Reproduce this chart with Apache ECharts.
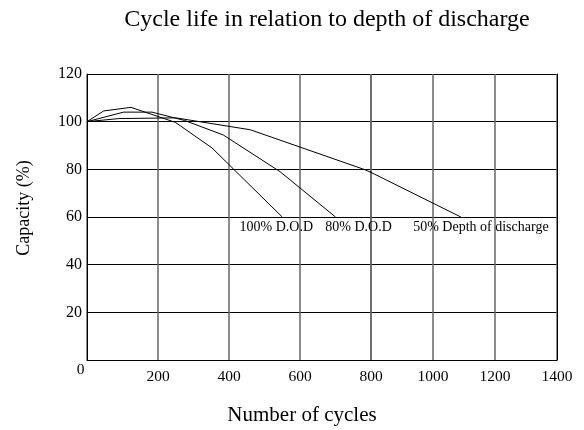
<!DOCTYPE html>
<html>
<head>
<meta charset="utf-8">
<script src="https://cdn.jsdelivr.net/npm/echarts@6/dist/echarts.min.js"></script>
<style>html,body{margin:0;padding:0;background:#fff}#main{width:584px;height:430px}</style>
</head>
<body>
<div id="main"></div>
<script>
// ---- data ----
const cycles100 = [0, 47, 124, 249, 352, 550];
const cap100    = [100, 104.5, 106, 99.7, 89, 60];
const cycles80  = [0, 103, 183, 275, 384, 544, 700];
const cap80     = [100, 104, 104, 100.5, 94.4, 79, 60];
const cycles50  = [0, 90, 250, 460, 780, 1090];
const cap50     = [100, 101.3, 101.6, 96.6, 80, 60];
const seriesNames = ['100% D.O.D', '80% D.O.D', '50% Depth of discharge'];
const xSegments = [[0, 800], [800, 1400]];   // the x scale changes spacing at 800
const yRange = [0, 120];
const titleText = 'Cycle life in relation to depth of discharge';
const xName = 'Number of cycles';
const yName = 'Capacity (%)';

const F = 'Liberation Serif';
const zip = (xs, ys) => xs.map((x, i) => [x, ys[i]]);

const chart = echarts.init(document.getElementById('main'));

function xAxisFor(idx) {
  return {
    gridIndex: idx, type: 'value', min: xSegments[idx][0], max: xSegments[idx][1], interval: 200,
    axisLine: { show: true, onZero: false, lineStyle: { color: '#000', width: 1 } },
    axisTick: { show: false },
    splitLine: { show: true, lineStyle: { color: '#666', width: 1.5 } },
    axisLabel: {
      showMinLabel: idx === 0, margin: 2, color: '#000', fontFamily: F, fontSize: 15.5,
      formatter: v => v === 0 ? '{z|0}' : '{n|' + v + '}',
      rich: {
        z: { padding: [0, 13, 0, 0], fontFamily: F, fontSize: 15.5, color: '#000' },
        n: { padding: [7, 0, 0, 0], fontFamily: F, fontSize: 15.5, color: '#000' }
      }
    }
  };
}
function yAxisFor(idx) {
  return {
    gridIndex: idx, type: 'value', min: yRange[0], max: yRange[1], interval: 20,
    position: idx === 0 ? 'left' : 'right',
    axisLine: { show: true, lineStyle: { color: '#000', width: 1 } },
    axisTick: { show: false },
    splitLine: { show: true, lineStyle: { color: '#000', width: 1 } },
    axisLabel: { show: idx === 0, showMinLabel: false, margin: 5, color: '#000', fontFamily: F, fontSize: 16 }
  };
}
function lineSeries(name, data, gridIdx, labelOffset) {
  const s = {
    name: name, type: 'line', xAxisIndex: gridIdx, yAxisIndex: gridIdx,
    data: data, showSymbol: false, symbol: 'none', clip: true, silent: true,
    lineStyle: { color: '#000', width: 1 }
  };
  if (labelOffset) {
    s.endLabel = {
      show: true, formatter: name, color: '#000', fontFamily: F, fontSize: 14,
      align: 'center', verticalAlign: 'top', distance: 0, offset: labelOffset
    };
  }
  return s;
}

const option = {
  animation: false,
  backgroundColor: '#fff',
  title: [
    { text: titleText, left: 322, top: 3, textAlign: 'center',
      textStyle: { fontFamily: F, fontSize: 24, fontWeight: 'normal', color: '#000' } },
    { text: xName, left: 297, top: 400, textAlign: 'center',
      textStyle: { fontFamily: F, fontSize: 21, fontWeight: 'normal', color: '#000' } }
  ],
  graphic: [{
    type: 'text', x: 24, y: 208, rotation: Math.PI / 2,
    style: { text: yName, font: '18px "Liberation Serif"', fill: '#000', align: 'center', verticalAlign: 'middle' }
  }],
  grid: [
    { left: 87, top: 74, width: 284, height: 286 },
    { left: 371, top: 74, width: 186, height: 286 }
  ],
  xAxis: [xAxisFor(0), xAxisFor(1)],
  yAxis: [yAxisFor(0), yAxisFor(1)],
  series: [
    lineSeries(seriesNames[0], zip(cycles100, cap100), 0, [-6, 3]),
    lineSeries(seriesNames[1], zip(cycles80, cap80), 0, [23, 3]),
    lineSeries(seriesNames[2], zip(cycles50, cap50), 0, null),
    lineSeries(seriesNames[2], zip(cycles50, cap50), 1, [20, 3])
  ]
};
chart.setOption(option);
</script>
</body>
</html>
